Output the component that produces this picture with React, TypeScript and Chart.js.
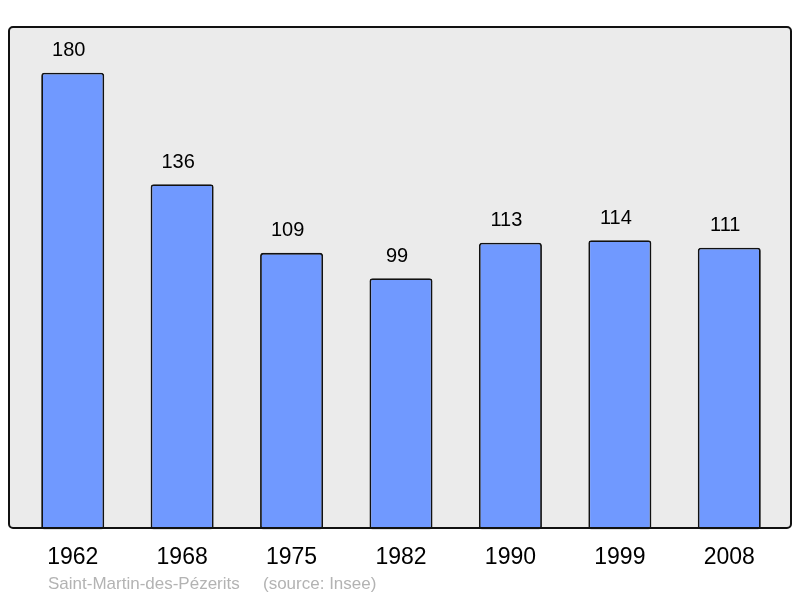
import { useEffect, useRef } from "react"
import { Chart, registerables } from "chart.js"

Chart.register(...registerables)

const years = ["1962", "1968", "1975", "1982", "1990", "1999", "2008"]
const population = [180, 136, 109, 99, 113, 114, 111]
const commune = "Saint-Martin-des-Pézerits"
const source = "(source: Insee)"

const FONT = "'Liberation Sans', Arial, sans-serif"

// fond gris + cadre, libellés des valeurs et légende source
const decor = {
  id: "decor",
  beforeDraw(chart: Chart) {
    const ctx = chart.ctx
    ctx.save()
    ctx.fillStyle = "#ffffff"
    ctx.fillRect(0, 0, chart.width, chart.height)
    ctx.beginPath()
    ctx.roundRect(9, 27, 782, 501, 4)
    ctx.fillStyle = "#ebebeb"
    ctx.fill()
    ctx.restore()
  },
  afterDatasetsDraw(chart: Chart) {
    const ctx = chart.ctx
    ctx.save()
    ctx.beginPath()
    ctx.roundRect(9, 27, 782, 501, 4)
    ctx.lineWidth = 2
    ctx.strokeStyle = "#111111"
    ctx.stroke()

    const meta = chart.getDatasetMeta(0)
    ctx.font = `20px ${FONT}`
    ctx.fillStyle = "#000000"
    ctx.textAlign = "center"
    ctx.textBaseline = "middle"
    meta.data.forEach((bar: any, i: number) => {
      ctx.fillText(String(population[i]), bar.x - 4, bar.y - 22)
    })

    ctx.font = `17px ${FONT}`
    ctx.fillStyle = "#b3b3b3"
    ctx.textAlign = "left"
    ctx.fillText(commune, 48, 584)
    ctx.fillText(source, 263, 584)
    ctx.restore()
  },
}

export default function App() {
  const chartRef = useRef<HTMLCanvasElement>(null)
  const chartInstance = useRef<Chart | null>(null)

  useEffect(() => {
    if (!chartRef.current) return
    if (chartInstance.current) chartInstance.current.destroy()
    const ctx = chartRef.current.getContext("2d")
    if (!ctx) return

    chartInstance.current = new Chart(ctx, {
      type: "bar",
      data: {
        labels: years,
        datasets: [
          {
            data: population,
            backgroundColor: "#7099ff",
            borderColor: "#111111",
            borderWidth: 1.8,
            borderRadius: 3,
            borderSkipped: false,
            categoryPercentage: 1,
            barPercentage: 0.576,
          },
        ],
      },
      options: {
        animation: false,
        responsive: true,
        maintainAspectRatio: false,
        layout: { padding: { left: 18, right: 16, top: 27, bottom: 13 } },
        plugins: {
          legend: { display: false },
          tooltip: { enabled: false },
        },
        scales: {
          x: {
            grid: { display: false, drawTicks: false },
            border: { display: false },
            ticks: {
              color: "#000000",
              padding: 14,
              font: { family: FONT, size: 23 },
            },
          },
          y: {
            display: false,
            min: 0,
            max: 198,
          },
        },
      },
      plugins: [decor],
    })

    return () => {
      if (chartInstance.current) chartInstance.current.destroy()
    }
  }, [])

  return (
    <div style={{ position: "fixed", left: 0, top: 0, width: 800, height: 598, background: "#fff" }}>
      <canvas ref={chartRef} />
    </div>
  )
}
